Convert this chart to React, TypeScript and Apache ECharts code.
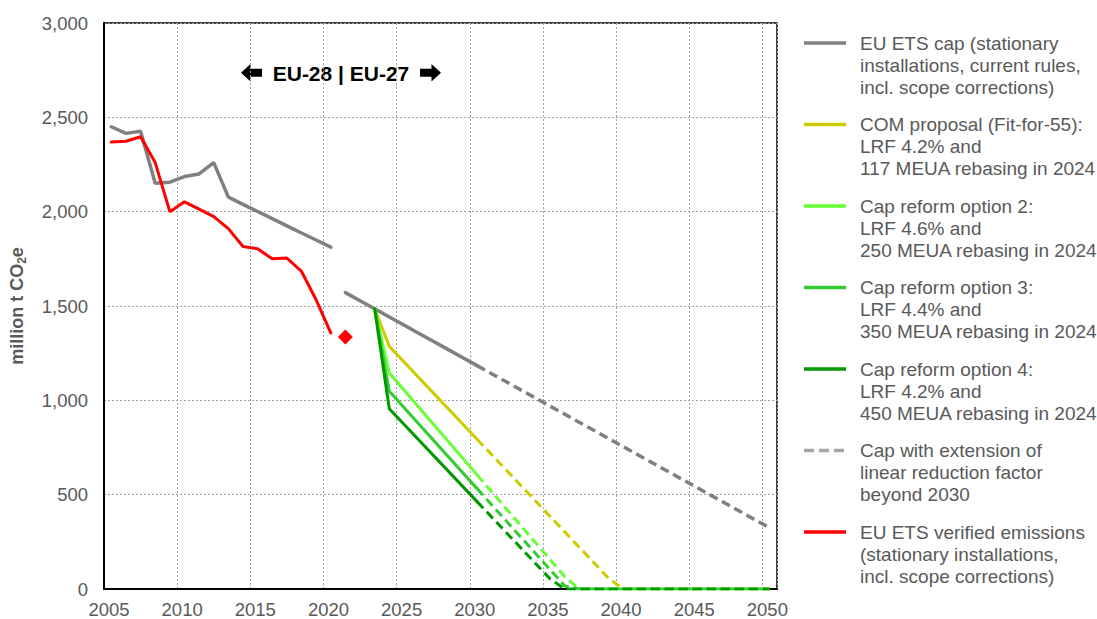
import React, { useEffect, useRef } from "react";
import * as echarts from "echarts";

// ---- data ----
const histYears = [2005, 2006, 2007, 2008, 2009, 2010, 2011, 2012, 2013, 2014, 2015, 2016, 2017, 2018, 2019, 2020];
const capHist = [2450, 2415, 2426, 2151, 2156, 2186, 2200, 2260, 2077, 2039, 2001, 1963, 1925, 1887, 1850, 1812];
const verifiedEmissions = [2369, 2373, 2397, 2260, 2000, 2052, 2013, 1974, 1910, 1815, 1803, 1750, 1754, 1683, 1533, 1357];
const estimateYear = [2021];
const estimateValue = [1336];

const capP4Years = [2021, 2022, 2023, 2024, 2025, 2026, 2027, 2028, 2029, 2030];
const capP4 = [1571, 1528, 1485, 1442, 1399, 1356, 1313, 1270, 1227, 1184];
const capExtYears = [2030, 2050];
const capExt = [1184, 324];

const optSolidYears = [2023, 2024, 2030];
const comSolid = [1485, 1286, 794];
const opt2Solid = [1485, 1145, 605];
const opt3Solid = [1485, 1048, 532];
const opt4Solid = [1485, 955, 463];

const comDashYears = [2030, 2039, 2040, 2050];
const comDash = [794, 56, 0, 0];
const opt2DashYears = [2030, 2036, 2037, 2050];
const opt2Dash = [605, 65, 0, 0];
const opt3DashYears = [2030, 2036, 2037, 2050];
const opt3Dash = [532, 16, 0, 0];
const opt4DashYears = [2030, 2035, 2036, 2050];
const opt4Dash = [463, 53, 0, 0];

const yTicks = [0, 500, 1000, 1500, 2000, 2500, 3000];

const legendLabels = [
  "EU ETS cap (stationary\ninstallations, current rules,\nincl. scope corrections)",
  "COM proposal (Fit-for-55):\nLRF 4.2% and\n117 MEUA rebasing in 2024",
  "Cap reform option 2:\nLRF 4.6% and\n250 MEUA rebasing in 2024",
  "Cap reform option 3:\nLRF 4.4% and\n350 MEUA rebasing in 2024",
  "Cap reform option 4:\nLRF 4.2% and\n450 MEUA rebasing in 2024",
  "Cap with extension of\nlinear reduction factor\nbeyond 2030",
  "EU ETS verified emissions\n(stationary installations,\nincl. scope corrections)",
];
const legendColors = ["#808080", "#cccc00", "#66ff33", "#33cc33", "#009900", "#a6a6a6", "#ff0000"];
const legendDashed = [false, false, false, false, false, true, false];

const GRAY = "#808080";
const YELLOW = "#cccc00";
const LGREEN = "#66ff33";
const MGREEN = "#33cc33";
const DGREEN = "#009900";
const RED = "#ff0000";
const FONT = "Liberation Sans, Arial, sans-serif";
const TXT = "#595959";
const DASH = [9, 5];

const pts = (xs: number[], ys: number[]) => xs.map((x, i) => [x + 0.5, ys[i]]);

const lineSeries = (name: string, data: number[][], color: string, dashed: boolean, width = 3) => ({
  name,
  type: "line",
  data,
  symbol: "none",
  lineStyle: { color, width, type: dashed ? DASH : "solid", cap: dashed ? "butt" : "round", opacity: 1 },
  itemStyle: { color },
  z: 3,
});

export default function App() {
  const ref = useRef<HTMLDivElement>(null);
  useEffect(() => {
    document.body.style.margin = "0";
    const chart = echarts.init(ref.current!, null, { renderer: "svg" });

    const graphics: any[] = [];
    legendLabels.forEach((label, i) => {
      const cy = 43 + i * 81.5;
      graphics.push({
        type: "line",
        shape: { x1: 804, y1: cy, x2: 846, y2: cy },
        style: {
          stroke: legendColors[i],
          lineWidth: 3.5,
          lineDash: legendDashed[i] ? [10, 5] : null,
        },
      });
      graphics.push({
        type: "text",
        x: 860,
        y: cy - 11,
        style: {
          text: label,
          fill: TXT,
          fontSize: 19,
          fontFamily: FONT,
          lineHeight: 22,
          verticalAlign: "top",
          align: "left",
        },
      });
    });
    // EU-28 | EU-27 annotation with arrows
    graphics.push({
      type: "polygon",
      shape: {
        points: [[241, 72.8], [250.5, 64], [250.5, 68.8], [262, 68.8], [262, 76.8], [250.5, 76.8], [250.5, 81.6]],
      },
      style: { fill: "#000" },
    });
    graphics.push({
      type: "polygon",
      shape: {
        points: [[441, 72.8], [431.5, 64], [431.5, 68.8], [420, 68.8], [420, 76.8], [431.5, 76.8], [431.5, 81.6]],
      },
      style: { fill: "#000" },
    });
    graphics.push({
      type: "text",
      x: 341,
      y: 73,
      style: {
        text: "EU-28 | EU-27",
        fill: "#000",
        fontSize: 21,
        fontWeight: "bold",
        fontFamily: FONT,
        align: "center",
        verticalAlign: "middle",
      },
    });

    chart.setOption({
      animation: false,
      backgroundColor: "#fff",
      grid: {
        left: 98,
        right: 320,
        top: 23,
        bottom: 30,
        show: true,
        borderColor: "#000",
        borderWidth: 1.5,
        containLabel: false,
      },
      xAxis: {
        type: "value",
        min: 2005,
        max: 2051,
        interval: 5,
        axisLine: { show: true, onZero: false, lineStyle: { color: "#000", width: 2 } },
        axisTick: { show: false },
        splitLine: { show: true, lineStyle: { color: "#a0a0a0", type: [2, 2], width: 1 } },
        axisLabel: {
          color: TXT,
          fontSize: 18.5,
          fontFamily: FONT,
          margin: 11,
          padding: [0, 0, 0, 10],
          showMaxLabel: false,
          formatter: (v: number) => (v % 5 === 0 ? String(v) : ""),
        },
      },
      yAxis: {
        type: "value",
        min: yTicks[0],
        max: yTicks[yTicks.length - 1],
        interval: 500,
        axisLine: { show: true, lineStyle: { color: "#000", width: 2 } },
        axisTick: { show: false },
        splitLine: { show: true, lineStyle: { color: "#a0a0a0", type: [2, 2], width: 1 } },
        axisLabel: {
          color: TXT,
          fontSize: 18.5,
          fontFamily: FONT,
          margin: 16,
          formatter: (v: number) => v.toLocaleString("en-US"),
        },
        name: "{a|million t CO}{b|2}{a|e}",
        nameLocation: "middle",
        nameRotate: 90,
        nameGap: 76,
        nameTextStyle: {
          rich: {
            a: { fontSize: 18, fontWeight: "bold", color: TXT, fontFamily: FONT, lineHeight: 22 },
            b: { fontSize: 12, fontWeight: "bold", color: TXT, fontFamily: FONT, lineHeight: 13, verticalAlign: "bottom" },
          },
        },
      },
      series: [
        lineSeries("EU ETS cap", pts(histYears, capHist), GRAY, false, 3.5),
        lineSeries("EU ETS cap phase 4", pts(capP4Years, capP4), GRAY, false, 3.5),
        lineSeries("Cap with extension", pts(capExtYears, capExt), GRAY, true, 3.5),
        lineSeries("COM proposal", pts(optSolidYears, comSolid), YELLOW, false),
        lineSeries("COM proposal ext", pts(comDashYears, comDash), YELLOW, true),
        lineSeries("Option 2", pts(optSolidYears, opt2Solid), LGREEN, false),
        lineSeries("Option 2 ext", pts(opt2DashYears, opt2Dash), LGREEN, true),
        lineSeries("Option 3", pts(optSolidYears, opt3Solid), MGREEN, false),
        lineSeries("Option 3 ext", pts(opt3DashYears, opt3Dash), MGREEN, true),
        lineSeries("Option 4", pts(optSolidYears, opt4Solid), DGREEN, false),
        lineSeries("Option 4 ext", pts(opt4DashYears, opt4Dash), DGREEN, true),
        lineSeries("EU ETS verified emissions", pts(histYears, verifiedEmissions), RED, false),
        {
          name: "2021 estimate",
          type: "scatter",
          data: pts(estimateYear, estimateValue),
          symbol: "diamond",
          symbolSize: 15,
          itemStyle: { color: RED, opacity: 1 },
          z: 4,
        },
      ],
      graphic: graphics,
    });
    return () => chart.dispose();
  }, []);
  return <div ref={ref} style={{ width: 1097, height: 619 }} />;
}
